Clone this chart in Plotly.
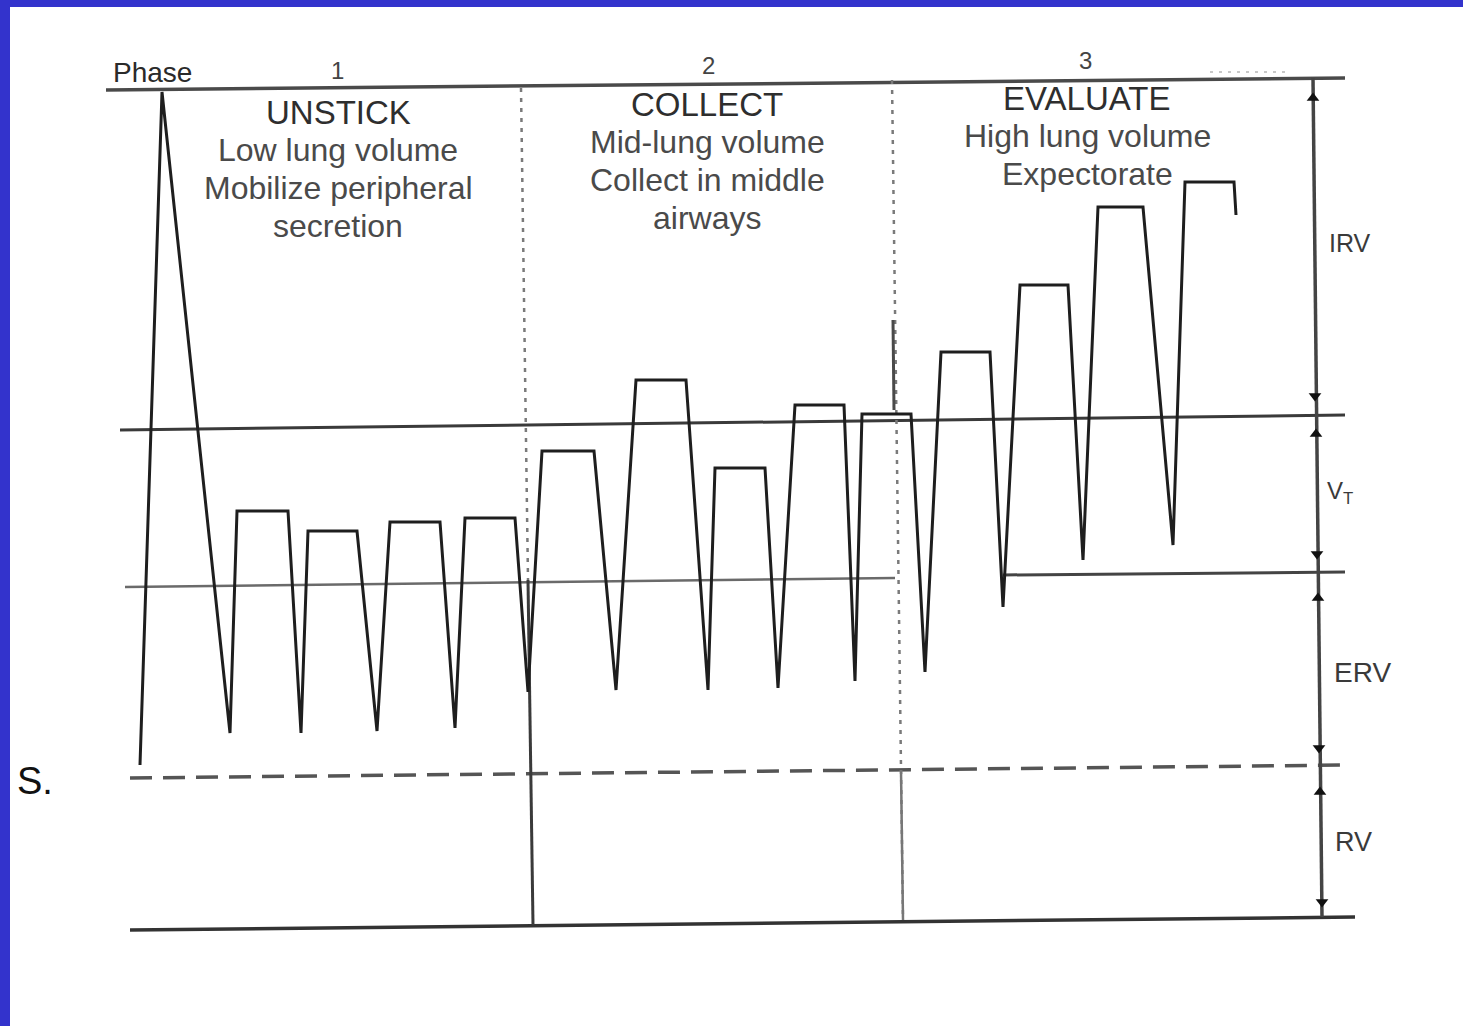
import plotly.graph_objects as go

# ---- data (time units across, lung-volume units up) ----
trace_t = [140, 162, 230, 237, 288, 301, 308, 357, 377, 390, 440, 455, 465, 515,
           528, 542, 594, 616, 636, 686, 708, 715, 765, 778, 795, 844, 855, 862,
           911, 925, 941, 990, 1003, 1020, 1068, 1083, 1098, 1143, 1173, 1185,
           1234, 1236]
trace_v = [261, 934, 293, 515, 515, 293, 495, 495, 295, 504, 504, 298, 508, 508,
           334, 575, 575, 336, 646, 646, 336, 558, 558, 338, 621, 621, 345, 612,
           612, 354, 674, 674, 419, 741, 741, 466, 819, 819, 481, 844, 844, 811]

# reference levels (start/end points, slightly tilted as in the scan)
top_t, top_v = [106, 1345], [936, 948]
vt_t, vt_v = [120, 1345], [596, 611]
frc1_t, frc1_v = [125, 895], [439, 448]
frc2_t, frc2_v = [1003, 1345], [451, 454]
rv_t, rv_v = [130, 1350], [248, 261]
base_t, base_v = [130, 1355], [96, 109]
axis_t, axis_v = [1313, 1322], [948, 109]

# phase dividers
div1_dot_t, div1_dot_v = [521, 528], [938, 446]
div1_sol_t, div1_sol_v = [528, 533], [446, 101]
div2_dot_t, div2_dot_v = [892, 903], [946, 106]
div2_sol1_t, div2_sol1_v = [893, 894], [706, 616]
div2_sol2_t, div2_sol2_v = [901, 903], [256, 106]

# arrow heads on the volume scale
arr_up_t = [1313, 1316, 1318, 1320]
arr_up_v = [928, 592, 428, 234]
arr_dn_t = [1315, 1317, 1319, 1322]
arr_dn_v = [630, 472, 278, 124]

phase_nums = ["1", "2", "3"]
phase_titles = ["UNSTICK", "COLLECT", "EVALUATE"]
phase_lines = [["Low lung volume", "Mobilize peripheral", "secretion"],
               ["Mid-lung volume", "Collect in middle", "airways"],
               ["High lung volume", "Expectorate"]]
vol_labels = ["IRV", "V<sub>T</sub>", "ERV", "RV"]

FONT = "Liberation Sans, Arial, sans-serif"
fig = go.Figure()


def seg(t, v, color="#2a2a2a", width=3, dash="solid"):
    fig.add_trace(go.Scatter(x=t, y=v, mode="lines", hoverinfo="skip",
                             line=dict(color=color, width=width, dash=dash),
                             showlegend=False))


seg(top_t, top_v, "#4a4a4a", 3.5)
seg(vt_t, vt_v, "#3a3a3a", 3)
seg(frc1_t, frc1_v, "#6a6a6a", 2.5)
seg(frc2_t, frc2_v, "#444444", 3)
seg(rv_t, rv_v, "#555555", 3.5, "22px,11px")
seg(base_t, base_v, "#333333", 3.5)
seg(axis_t, axis_v, "#444444", 3.5)
seg(div1_dot_t, div1_dot_v, "#7a7a7a", 2.5, "4px,6px")
seg(div1_sol_t, div1_sol_v, "#3a3a3a", 3)
seg(div2_dot_t, div2_dot_v, "#7a7a7a", 2.5, "4px,6px")
seg(div2_sol1_t, div2_sol1_v, "#4a4a4a", 3)
seg(div2_sol2_t, div2_sol2_v, "#777777", 2.5)
seg([1210, 1290], [954, 954], "#c8c8c8", 2, "3px,6px")

# breathing trace
seg(trace_t, trace_v, "#1e1e1e", 3)

fig.add_trace(go.Scatter(x=arr_up_t, y=arr_up_v, mode="markers", hoverinfo="skip",
                         marker=dict(symbol="triangle-up", size=11, color="#111"),
                         showlegend=False))
fig.add_trace(go.Scatter(x=arr_dn_t, y=arr_dn_v, mode="markers", hoverinfo="skip",
                         marker=dict(symbol="triangle-down", size=11, color="#111"),
                         showlegend=False))

ann = []


def txt(x, y, s, size, color="#333333", xanchor="center"):
    ann.append(dict(x=x, y=y, xref="x", yref="y", text=s, showarrow=False,
                    xanchor=xanchor, yanchor="middle",
                    font=dict(family=FONT, size=size, color=color)))


txt(152, 954, "Phase", 28, "#2a2a2a")
for cx, ny, num in zip([337, 708, 1085], [956, 961, 966], phase_nums):
    txt(cx, ny, num, 24, "#444444")

centers = [338, 707, 1087]
title_y = [914, 922, 928]
for cx, ty, title, lines in zip(centers, title_y, phase_titles, phase_lines):
    txt(cx, ty, title, 33, "#2e2e2e")
    for i, line in enumerate(lines):
        txt(cx, ty - 38 * (i + 1), line, 32, "#4a4a4a")

for lx, ly, lab, sz in zip([1350, 1340, 1362, 1353], [783, 534, 354, 184],
                           vol_labels, [25, 24, 28, 27]):
    txt(lx, ly, lab, sz, "#3a3a3a")

txt(15, 245, "S.", 38, "#111111", "left")

fig.update_layout(
    width=1463, height=1026,
    margin=dict(l=10, t=7, r=0, b=0, pad=0),
    paper_bgcolor="#3333cc", plot_bgcolor="#ffffff",
    xaxis=dict(range=[10, 1463], visible=False, fixedrange=True),
    yaxis=dict(range=[0, 1019], visible=False, fixedrange=True),
    annotations=ann,
    showlegend=False,
)

fig.write_html("out.html", config={"displayModeBar": False},
               post_script="document.body.style.margin='0';document.body.style.overflow='hidden';")
